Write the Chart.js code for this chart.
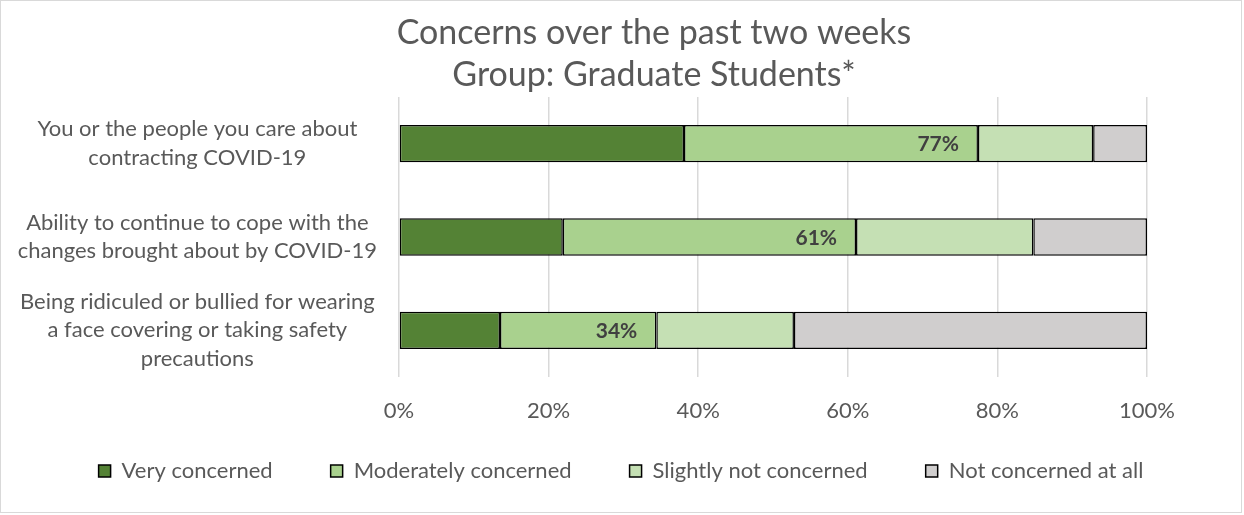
<!DOCTYPE html>
<html>
<head>
<meta charset="utf-8">
<script src="https://cdn.jsdelivr.net/npm/chart.js@4"></script>
<style>
  body { margin: 0; background: #fff; }
  #wrap { width: 1240px; height: 511px; border: 1px solid #d9d9d9; position: relative; }
</style>
</head>
<body>
<div id="wrap"><canvas id="concernsChart"></canvas></div>
<script>
// Chart data
const categories = [
    ['You or the people you care about', 'contracting COVID-19'],
    ['Ability to continue to cope with the', 'changes brought about by COVID-19'],
    ['Being ridiculed or bullied for wearing', 'a face covering or taking safety', 'precautions']
];
const seriesNames = ['Very concerned', 'Moderately concerned', 'Slightly not concerned', 'Not concerned at all'];
const veryConcerned = [38.1, 21.9, 13.5];
const moderatelyConcerned = [39.3, 39.2, 20.9];
const slightlyNotConcerned = [15.4, 23.7, 18.4];
const notConcerned = [7.2, 15.2, 47.2];
const concernedLabels = ['77%', '61%', '34%'];
const tickValues = [0, 20, 40, 60, 80, 100];
const titleLines = ['Concerns over the past two weeks', 'Group: Graduate Students*'];

const colors = ['#548235', '#A9D18E', '#C5E0B4', '#D0CECE'];
const fontFamily = 'Lato, "Open Sans", sans-serif';
const textColor = '#595959';

// title drawn by hand, Excel puts it a bit right of the canvas centre
const chartTitle = {
    id: 'chartTitle',
    afterDraw(chart) {
        const ctx = chart.ctx;
        ctx.save();
        ctx.font = '34px ' + fontFamily;
        ctx.fillStyle = textColor;
        ctx.textAlign = 'center';
        ctx.textBaseline = 'middle';
        titleLines.forEach((line, i) => ctx.fillText(line, 653, 32 + i * 42));
        ctx.restore();
    }
};

// label for the combined very + moderately concerned share
const totalLabels = {
    id: 'totalLabels',
    afterDatasetsDraw(chart) {
        const ctx = chart.ctx;
        const meta = chart.getDatasetMeta(1);
        ctx.save();
        ctx.font = 'bold 21px ' + fontFamily;
        ctx.fillStyle = '#404040';
        ctx.textAlign = 'right';
        ctx.textBaseline = 'middle';
        meta.data.forEach((bar, i) => {
            ctx.fillText(concernedLabels[i], bar.x - 19, bar.y + 1);
        });
        ctx.restore();
    }
};

// legend padding is used for the gap between items, so trim its height,
// let it use the full canvas width and pull it up under the axis labels
const legendPlacement = {
    id: 'legendPlacement',
    beforeInit(chart) {
        const fit = chart.legend.fit;
        chart.legend.fit = function () {
            this.maxWidth = this.chart.width;
            fit.call(this);
            this.height = 87;
        };
    },
    afterLayout(chart) {
        const legend = chart.legend;
        legend.left = 0;
        legend.right = chart.width;
        legend.width = chart.width;
        legend.top -= 23;
        legend.bottom -= 23;
    }
};

const data = [veryConcerned, moderatelyConcerned, slightlyNotConcerned, notConcerned];

new Chart(document.getElementById('concernsChart').getContext('2d'), {
    type: 'bar',
    data: {
        labels: categories,
        datasets: data.map((values, i) => ({
            label: seriesNames[i],
            data: values,
            backgroundColor: colors[i],
            borderColor: '#000000',
            borderWidth: 1.5,
            borderSkipped: false,
            barPercentage: 0.8,
            categoryPercentage: 0.5
        }))
    },
    plugins: [chartTitle, totalLabels, legendPlacement],
    options: {
        indexAxis: 'y',
        responsive: true,
        maintainAspectRatio: false,
        animation: false,
        layout: { padding: { top: 96, right: 94, bottom: 0, left: 0 } },
        scales: {
            x: {
                stacked: true,
                min: 0,
                max: 100,
                afterBuildTicks(scale) {
                    scale.ticks = tickValues.map(v => ({ value: v }));
                },
                afterFit(scale) { scale.height = 48; },
                grid: { color: '#d9d9d9', lineWidth: 1.5, drawTicks: false },
                border: { display: false },
                ticks: {
                    padding: 21,
                    color: textColor,
                    font: { family: fontFamily, size: 22 },
                    callback: v => v + '%'
                }
            },
            y: {
                stacked: true,
                grid: { display: false, drawTicks: false },
                border: { display: false },
                afterFit(scale) { scale.width = 398; },
                ticks: {
                    autoSkip: false,
                    padding: 22,
                    crossAlign: 'center',
                    color: textColor,
                    font: { family: fontFamily, size: 22, lineHeight: 1.3 }
                }
            }
        },
        plugins: {
            title: { display: false },
            legend: {
                position: 'bottom',
                labels: {
                    color: textColor,
                    font: { family: fontFamily, size: 22 },
                    boxWidth: 12,
                    boxHeight: 12,
                    padding: 58,
                    generateLabels(chart) {
                        return chart.data.datasets.map((ds, i) => ({
                            text: ds.label,
                            fillStyle: ds.backgroundColor,
                            strokeStyle: '#000000',
                            lineWidth: 1.5,
                            fontColor: textColor,
                            datasetIndex: i
                        }));
                    }
                }
            },
            tooltip: { enabled: false }
        }
    }
});
</script>
</body>
</html>
